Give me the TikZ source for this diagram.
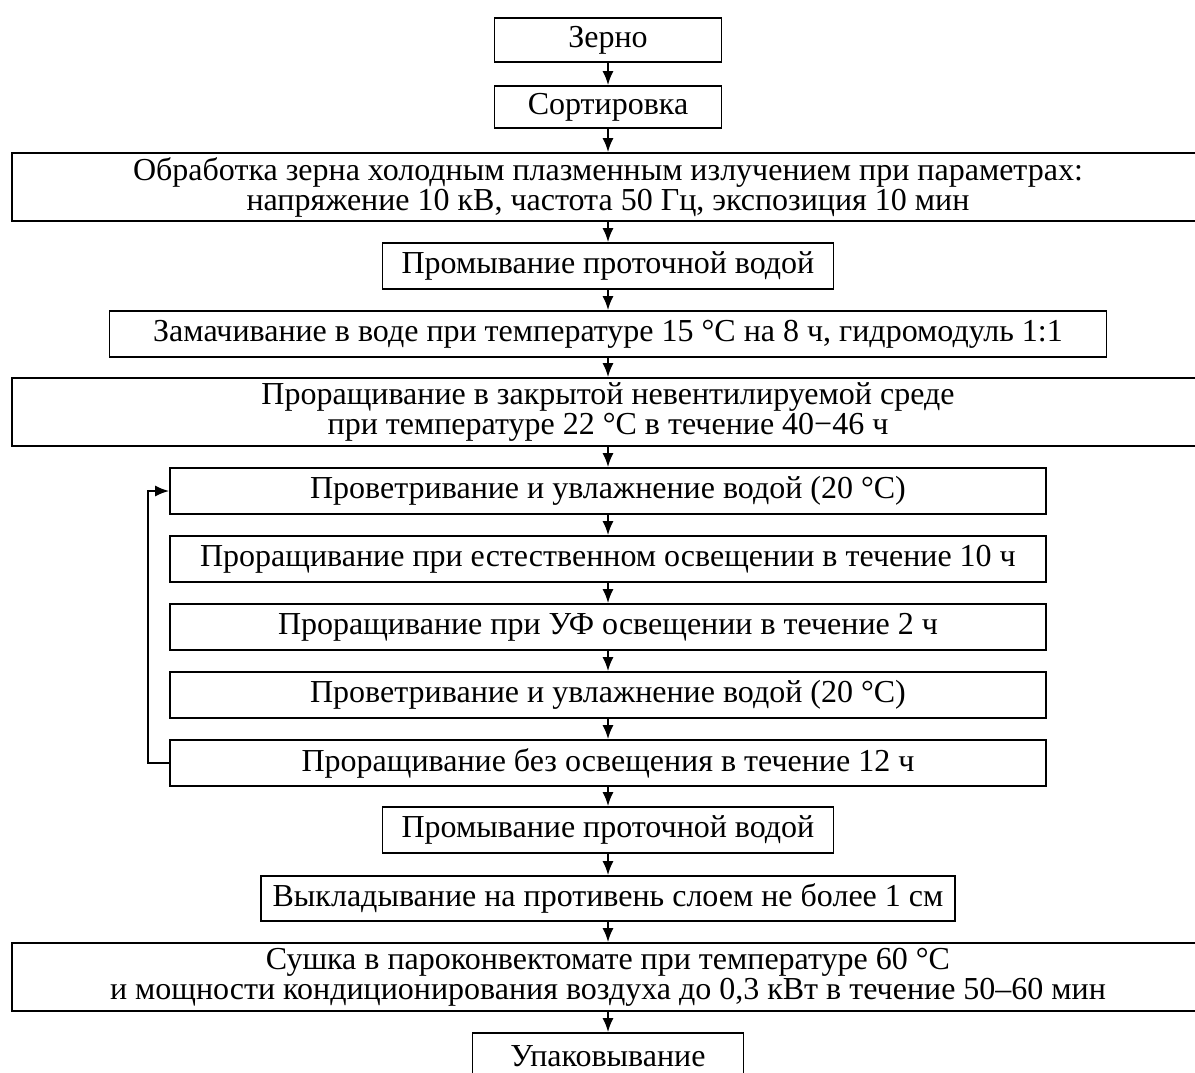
\documentclass[tikz,border=0pt]{standalone}
\usepackage{fontspec}
\setmainfont{Liberation Serif}
\usetikzlibrary{arrows.meta}

\tikzset{
  stage/.style={draw, line width=1.8pt, inner sep=0pt, align=center,
    minimum height=46pt, font=\fontsize{32}{30}\selectfont},
  flow/.style={-{Latex[length=14pt,width=11pt]}, line width=1.8pt},
}

\begin{document}
\begin{tikzpicture}[x=1pt, y=-1pt, line join=miter]
		
		% Page frame (the right side and the bottom are cut)
		\useasboundingbox (0,0) rectangle (1195,1072);
		
		% Preparation of the grain
		\node[stage, minimum width=227pt, minimum height=44pt] (grain) at (608,40) {Зерно};
		\node[stage, minimum width=227pt, minimum height=42pt] (sort) at (608,107) {Сортировка};
		\node[stage, minimum width=1192pt, minimum height=68pt] (plasma) at (608,187)
		{Обработка зерна холодным плазменным излучением при параметрах:\\
			напряжение 10 кВ, частота 50 Гц, экспозиция 10 мин};
		\node[stage, minimum width=451pt] (wash) at (608,266) {Промывание проточной водой};
		\node[stage, minimum width=997pt] (soak) at (608,334)
		{Замачивание в воде при температуре 15 °C на 8 ч, гидромодуль 1:1};
		\node[stage, minimum width=1192pt, minimum height=68pt] (closed) at (608,412)
		{Проращивание в закрытой невентилируемой среде\\
			при температуре 22 °C в течение 40−46 ч};
		
		% Repeated cycle of germination
		\node[stage, minimum width=876pt] (air) at (608,491) {Проветривание и увлажнение водой (20 °C)};
		\node[stage, minimum width=876pt] (day) at (608,559) {Проращивание при естественном освещении в течение 10 ч};
		\node[stage, minimum width=876pt] (uv) at (608,627) {Проращивание при УФ освещении в течение 2 ч};
		\node[stage, minimum width=876pt] (airb) at (608,695) {Проветривание и увлажнение водой (20 °C)};
		\node[stage, minimum width=876pt] (dark) at (608,763) {Проращивание без освещения в течение 12 ч};
		
		% Final steps
		\node[stage, minimum width=451pt] (washb) at (608,830) {Промывание проточной водой};
		\node[stage, minimum width=694pt, minimum height=45pt] (tray) at (608,898.5)
		{Выкладывание на противень слоем не более 1 см};
		\node[stage, minimum width=1192pt, minimum height=68pt] (dry) at (608,977)
		{Сушка в пароконвектомате при температуре 60 °C\\
			и мощности кондиционирования воздуха до 0,3 кВт в течение 50–60 мин};
		\node[stage, minimum width=271pt] (pack) at (608,1056) {Упаковывание};
		
		% Arrows between the stages
		\foreach \a/\b in {grain/sort, sort/plasma, plasma/wash, wash/soak, soak/closed,
			closed/air, air/day, day/uv, uv/airb, airb/dark, dark/washb, washb/tray,
			tray/dry, dry/pack}
		\draw[flow] (\a.south) -- (\b.north);
		
		% Return of the cycle
		\draw[flow] (dark.west) -- ++(-21,0) |- (air.west);
		
	\end{tikzpicture}
\end{document}
